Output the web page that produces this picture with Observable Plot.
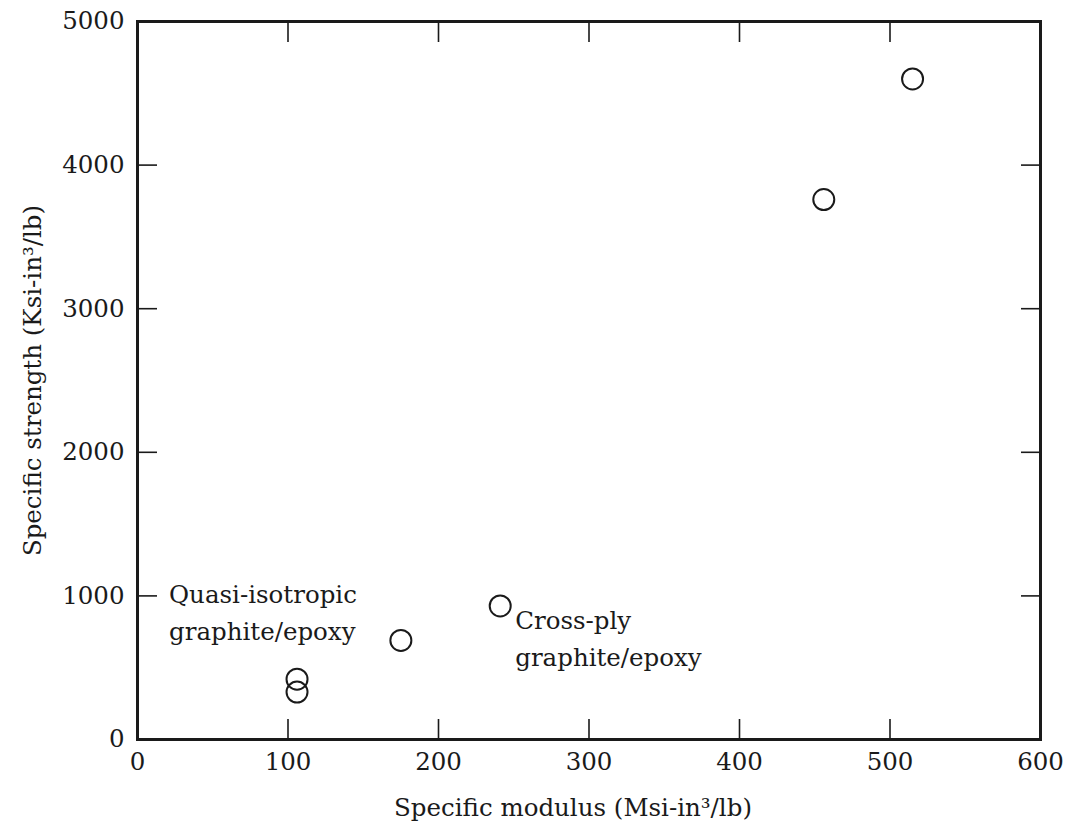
<!DOCTYPE html>
<html>
<head>
<meta charset="utf-8">
<script src="https://cdn.jsdelivr.net/npm/d3@7"></script>
<script src="https://cdn.jsdelivr.net/npm/@observablehq/plot@0.6"></script>
<style>
  body { margin: 0; background: #ffffff; }
  #chart svg { display: block; }
</style>
</head>
<body>
<div id="chart"></div>
<script>
// Specific modulus vs. specific strength of graphite/epoxy laminates
const modulus = [106, 106, 175, 241, 456, 515];        // Msi-in³/lb
const strength = [330, 420, 690, 930, 3760, 4600];     // Ksi-in³/lb

const xTicks = [0, 100, 200, 300, 400, 500, 600];
const yTicks = [0, 1000, 2000, 3000, 4000, 5000];

const xTitle = "Specific modulus (Msi-in³/lb)";
const yTitle = "Specific strength (Ksi-in³/lb)";

const noteText = ["Quasi-isotropic\ngraphite/epoxy", "Cross-ply\ngraphite/epoxy"];
const notePoint = [1, 3]; // index of the point each note refers to

const points = modulus.map((m, i) => ({m, s: strength[i]}));
const notes = noteText.map((text, i) => ({text, m: modulus[notePoint[i]], s: strength[notePoint[i]]}));

const ink = "#1a1a1a";
const plain = (d) => String(d);

const chart = Plot.plot({
  width: 1071,
  height: 823,
  marginLeft: 137,
  marginRight: 31,
  marginTop: 21,
  marginBottom: 84,
  style: {fontFamily: "'DejaVu Serif', serif", fontSize: "24.5px", color: ink, background: "#ffffff"},
  x: {domain: [0, 600]},
  y: {domain: [0, 5000]},
  marks: [
    // tick labels and the vertical axis title
    Plot.axisX(xTicks, {anchor: "bottom", tickSize: 0, tickPadding: 13, tickFormat: plain, label: null}),
    Plot.axisY(yTicks, {anchor: "left", tickSize: 0, tickPadding: 13, tickFormat: plain,
      label: yTitle, labelAnchor: "center", labelOffset: 114, labelArrow: "none"}),
    // horizontal axis title, set a little left of the frame centre
    Plot.text([xTitle], {frameAnchor: "bottom", lineAnchor: "bottom", dy: 76, dx: -16, fill: ink}),
    // inward-pointing ticks on all four sides
    Plot.axisX(xTicks, {anchor: "bottom", tickSize: -20, text: null, label: null, strokeWidth: 1.6}),
    Plot.axisX(xTicks, {anchor: "top", tickSize: -20, text: null, label: null, strokeWidth: 1.6}),
    Plot.axisY(yTicks, {anchor: "left", tickSize: -20, text: null, label: null, strokeWidth: 1.6}),
    Plot.axisY(yTicks, {anchor: "right", tickSize: -20, text: null, label: null, strokeWidth: 1.6}),
    Plot.frame({stroke: ink, strokeWidth: 3}),
    Plot.dot(points, {x: "m", y: "s", r: 10.5, stroke: ink, strokeWidth: 2, fill: "none"}),
    Plot.text([notes[0]], {x: "m", y: "s", text: "text", textAnchor: "start", lineAnchor: "top",
      lineHeight: 1.5, dx: -128, dy: -102, fill: ink}),
    Plot.text([notes[1]], {x: "m", y: "s", text: "text", textAnchor: "start", lineAnchor: "top",
      lineHeight: 1.5, dx: 15, dy: -3, fill: ink})
  ]
});

document.getElementById("chart").appendChild(chart);
</script>
</body>
</html>
